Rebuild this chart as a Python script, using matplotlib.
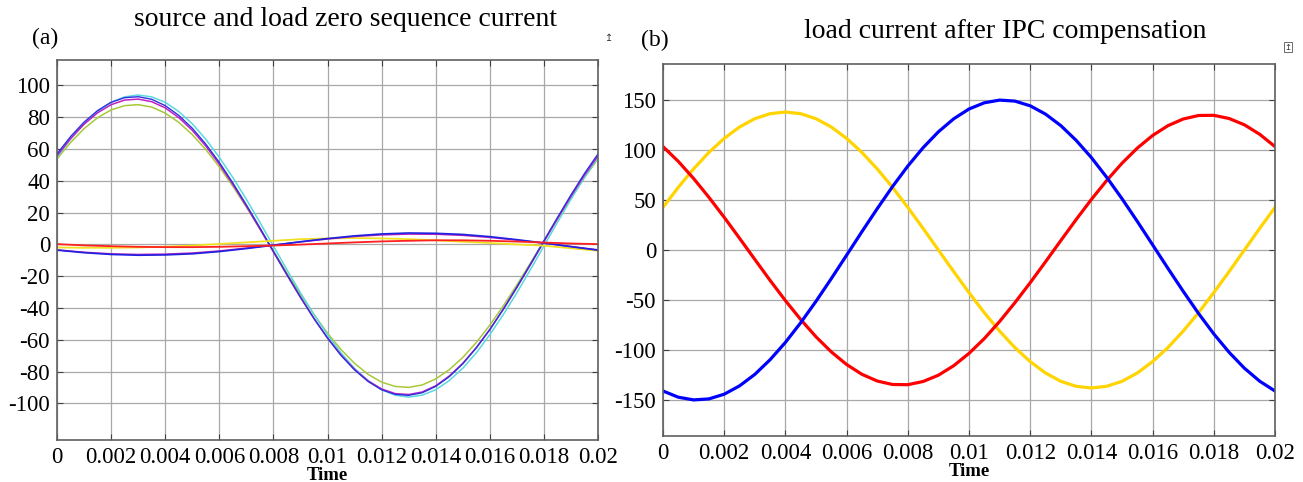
import numpy as np
import matplotlib
matplotlib.use('Agg')
import matplotlib.pyplot as plt

plt.rcParams['axes.unicode_minus'] = False

# sample times (s): fine grid for the big waves, 1 ms grid for the small ones
t_fine = np.linspace(0, 0.02, 41)
t_coarse = np.linspace(0, 0.02, 21)

# (a) source and load zero sequence current
a_blue = [56.9, 67.8, 76.9, 84.2, 89.4, 92.3, 92.9, 91.3, 87.3, 81.2, 73.1, 63.1, 51.6, 38.7,
          24.9, 10.5, -4.3, -18.9, -33.1, -46.6, -58.9, -69.8, -78.9, -86.2, -91.4, -94.3, -94.9,
          -93.3, -89.3, -83.2, -75.1, -65.1, -53.6, -40.7, -26.9, -12.5, 2.3, 16.9, 31.1, 44.6, 56.9]
a_magenta = [55.8, 66.5, 75.6, 82.8, 87.9, 90.8, 91.4, 89.8, 85.9, 79.8, 71.8, 61.9, 50.5, 37.8,
             24.1, 9.8, -4.7, -19.2, -33.3, -46.6, -58.8, -69.5, -78.6, -85.8, -90.9, -93.8, -94.4,
             -92.8, -88.9, -82.8, -74.8, -64.9, -53.5, -40.8, -27.1, -12.8, 1.7, 16.2, 30.3, 43.6, 55.8]
a_green = [53.8, 64.1, 72.8, 79.7, 84.6, 87.3, 87.9, 86.4, 82.6, 76.8, 69.1, 59.7, 48.8, 36.6,
           23.5, 9.8, -4.1, -18.0, -31.4, -44.1, -55.8, -66.1, -74.8, -81.7, -86.6, -89.3, -89.9,
           -88.4, -84.6, -78.8, -71.1, -61.7, -50.8, -38.6, -25.5, -11.8, 2.1, 16.0, 29.4, 42.1, 53.8]
a_cyan = [54.8, 66.2, 75.9, 83.6, 89.4, 92.8, 94.0, 92.8, 89.4, 83.6, 75.9, 66.2, 54.8, 42.1,
          28.4, 13.9, -1.0, -15.9, -30.4, -44.1, -56.8, -68.2, -77.9, -85.6, -91.4, -94.8, -96.0,
          -94.8, -91.4, -85.6, -77.9, -68.2, -56.8, -44.1, -30.4, -15.9, -1.0, 13.9, 28.4, 42.1, 54.8]

a_blue_small = [-3.6, -5.2, -6.3, -6.8, -6.6, -5.9, -4.5, -2.6, -0.5, 1.7, 3.7, 5.4, 6.6, 7.2,
                7.0, 6.3, 4.9, 3.0, 0.9, -1.4, -3.6]
a_magenta_small = [-3.4, -4.9, -5.9, -6.3, -6.1, -5.4, -4.1, -2.3, -0.4, 1.6, 3.4, 5.0, 6.0, 6.5,
                   6.4, 5.7, 4.4, 2.7, 0.8, -1.3, -3.4]
a_red_small = [0.2, -0.6, -1.1, -1.5, -1.7, -1.7, -1.5, -1.1, -0.7, -0.1, 0.6, 1.3, 1.9, 2.3,
               2.6, 2.6, 2.3, 1.8, 1.2, 0.6, 0.2]
a_yellow_small = [-1.9, -2.1, -2.1, -1.9, -1.4, -0.7, 0.3, 1.3, 2.3, 3.3, 3.8, 4.0, 3.8, 3.3,
                  2.6, 1.7, 0.9, 0.0, -0.8, -2.4, -4.0]

# (b) load current after IPC compensation
b_yellow = [42.6, 62.7, 81.1, 97.6, 111.6, 123.0, 131.3, 136.3, 138.0, 136.3, 131.3, 123.0, 111.6,
            97.6, 81.1, 62.7, 42.6, 21.6, 0.0, -21.6, -42.6, -62.7, -81.1, -97.6, -111.6, -123.0,
            -131.3, -136.3, -138.0, -136.3, -131.3, -123.0, -111.6, -97.6, -81.1, -62.7, -42.6,
            -21.6, 0.0, 21.6, 42.6]
b_red = [103.4, 88.6, 71.5, 52.7, 32.7, 11.8, -9.4, -30.4, -50.6, -69.5, -86.8, -101.9, -114.5,
         -124.3, -131.0, -134.5, -134.7, -131.5, -125.2, -115.7, -103.4, -88.6, -71.5, -52.7, -32.7,
         -11.8, 9.4, 30.4, 50.6, 69.5, 86.8, 101.9, 114.5, 124.3, 131.0, 134.5, 134.7, 131.5, 125.2,
         115.7, 103.4]
b_blue = [-141.0, -147.2, -149.9, -148.9, -144.2, -135.9, -124.4, -109.7, -92.4, -72.7, -51.3, -28.6,
          -5.2, 18.3, 41.3, 63.4, 83.9, 102.3, 118.2, 131.2, 141.0, 147.2, 149.9, 148.9, 144.2, 135.9,
          124.4, 109.7, 92.4, 72.7, 51.3, 28.6, 5.2, -18.3, -41.3, -63.4, -83.9, -102.3, -118.2,
          -131.2, -141.0]

x_ticks = [0, 0.002, 0.004, 0.006, 0.008, 0.01, 0.012, 0.014, 0.016, 0.018, 0.02]
x_tick_labels = ['0', '0.002', '0.004', '0.006', '0.008', '0.01', '0.012', '0.014', '0.016', '0.018', '0.02']
a_yticks = [-100, -80, -60, -40, -20, 0, 20, 40, 60, 80, 100]
b_yticks = [-150, -100, -50, 0, 50, 100, 150]

serif = 'Liberation Serif'
W, H = 1303, 482
fig = plt.figure(figsize=(W / 100, H / 100), dpi=100)


def box(l, r, t, b):
    return [l / W, 1 - b / H, (r - l) / W, (b - t) / H]


def style(ax, yticks, ylim):
    ax.set_xlim(0, 0.02)
    ax.set_ylim(*ylim)
    ax.set_xticks(x_ticks)
    ax.set_xticklabels(x_tick_labels)
    ax.set_yticks(yticks)
    ax.set_yticklabels([str(v) for v in yticks])
    ax.grid(True, color='#a8a8a8', linewidth=0.9)
    ax.set_axisbelow(True)
    for s in ax.spines.values():
        s.set_color('#606060')
        s.set_linewidth(1.2)
    ax.tick_params(direction='in', length=4, color='#404040', top=True, right=True,
                   labelsize=16.5, pad=5)
    for lab in ax.get_xticklabels() + ax.get_yticklabels():
        lab.set_family(serif)
    ax.set_xlabel('Time', family=serif, fontweight='bold', fontsize=13.5, labelpad=-1)


# left panel
ax1 = fig.add_axes(box(57, 598, 60, 440))
ax1.plot(t_fine, a_green, color='#a8c838', lw=1.1)
ax1.plot(t_fine, a_cyan, color='#5ad8e0', lw=1.1)
ax1.plot(t_fine, a_magenta, color='#c020c0', lw=1.1)
ax1.plot(t_fine, a_blue, color='#3030e0', lw=1.0)
ax1.plot(t_coarse, a_yellow_small, color='#f0e020', lw=1.3)
ax1.plot(t_coarse, a_magenta_small, color='#b020c0', lw=1.1)
ax1.plot(t_coarse, a_blue_small, color='#2020e0', lw=1.2)
ax1.plot(t_coarse, a_red_small, color='#ff2020', lw=1.3)
style(ax1, a_yticks, (-123, 116))

# right panel
ax2 = fig.add_axes(box(663, 1275, 64, 436))
ax2.plot(t_fine, b_yellow, color='#ffd400', lw=2.3)
ax2.plot(t_fine, b_red, color='#ff0000', lw=2.3)
ax2.plot(t_fine, b_blue, color='#0000ff', lw=2.3)
style(ax2, b_yticks, (-186, 186))

fig.text(345 / W, 1 - 20 / H, 'source and load zero sequence current', family=serif,
         fontsize=20, ha='center', va='center')
fig.text(45 / W, 1 - 38 / H, '(a)', family=serif, fontsize=17, ha='center', va='center')
fig.text(1005 / W, 1 - 31 / H, 'load current after IPC compensation', family=serif,
         fontsize=20, ha='center', va='center')
fig.text(655 / W, 1 - 40 / H, '(b)', family=serif, fontsize=17, ha='center', va='center')
fig.text(609 / W, 1 - 38 / H, '↥', fontsize=7, ha='center', va='center', color='#333333')
fig.text(1288 / W, 1 - 47 / H, '↥', fontsize=6, ha='center', va='center', color='#333333',
         bbox=dict(boxstyle='square,pad=0.1', fc='white', ec='#555555', lw=0.6))

fig.savefig('out.png', dpi=100)
